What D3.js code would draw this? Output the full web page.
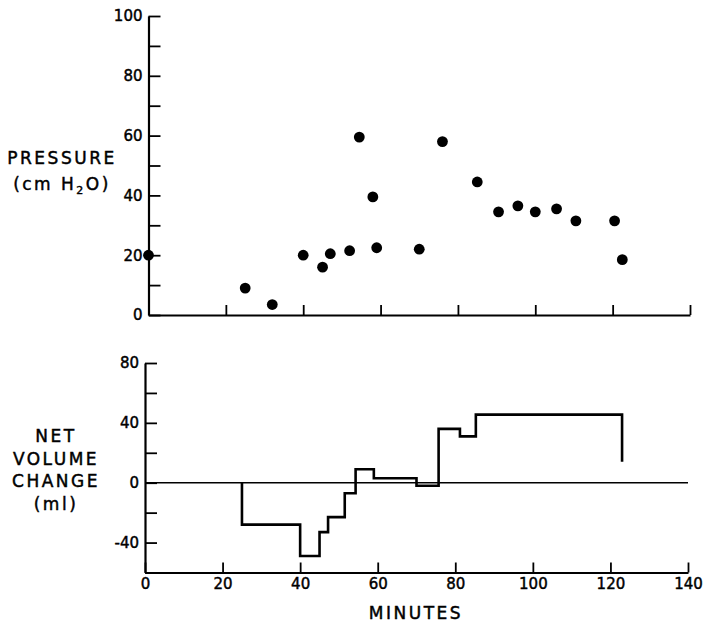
<!DOCTYPE html>
<html>
<head>
<meta charset="utf-8">
<script src="https://cdn.jsdelivr.net/npm/d3@7"></script>
<style>
  html, body { margin: 0; padding: 0; background: #fff; }
  svg { display: block; }
  .tick text { font-family: "DejaVu Sans", sans-serif; font-size: 15px; fill: #000; stroke: #000; stroke-width: 0.45px; }
  .title { font-family: "DejaVu Sans", sans-serif; font-size: 17px; letter-spacing: 2.5px; fill: #000; stroke: #000; stroke-width: 0.45px; }
</style>
</head>
<body>
<script>
// Bladder pressure readings over time
const pressureMinutes = [0, 25, 32, 40, 45, 47, 52, 54.5, 58, 59, 70, 76, 85, 90.5, 95.5, 100, 105.5, 110.5, 120.5, 122.5];
const pressureValues  = [20, 9, 3.5, 20, 16, 20.5, 21.5, 59.5, 39.5, 22.5, 22, 58, 44.5, 34.5, 36.5, 34.5, 35.5, 31.5, 31.5, 18.5];

// Net volume change: level that begins at each minute (starts from 0)
const volumeMinutes = [25, 40, 45, 47.2, 51.5, 54.3, 59, 70, 75.7, 81.2, 85.3, 123];
const volumeLevels  = [-28, -49, -33, -23, -7, 9, 3, -2, 36, 31, 45.5, 14];

const minuteTicks = [0, 20, 40, 60, 80, 100, 120, 140];
const pressureTicks = [0, 10, 20, 30, 40, 50, 60, 70, 80, 90, 100];
const volumeTicks = [-40, -20, 0, 20, 40, 60, 80];

const W = 704, H = 623;
const svg = d3.select("body").append("svg").attr("width", W).attr("height", H);

// ---- Top panel: pressure ----
const xTop = d3.scaleLinear().domain([0, 140]).range([148.5, 690]);
const yTop = d3.scaleLinear().domain([0, 100]).range([315, 16]);

svg.append("g").attr("transform", `translate(${xTop(0)},0)`)
  .call(d3.axisLeft(yTop).tickValues(pressureTicks)
    .tickSizeInner(-12).tickSizeOuter(0).tickPadding(6)
    .tickFormat(d => d % 20 === 0 ? d : ""));

svg.append("g").attr("transform", `translate(0,${yTop(0)})`)
  .call(d3.axisBottom(xTop).tickValues(minuteTicks)
    .tickSizeInner(-10).tickSizeOuter(0).tickFormat(""));

svg.append("g").selectAll("circle")
  .data(pressureMinutes.map((m, i) => [m, pressureValues[i]]))
  .join("circle")
  .attr("cx", d => xTop(d[0]))
  .attr("cy", d => yTop(d[1]))
  .attr("r", 5.4)
  .attr("fill", "#000");

svg.append("text").attr("class", "title").attr("text-anchor", "middle")
  .attr("x", 62).attr("y", 164).text("PRESSURE");
const unit = svg.append("text").attr("class", "title").attr("text-anchor", "middle")
  .attr("x", 62).attr("y", 190);
unit.append("tspan").text("(cm H");
unit.append("tspan").attr("font-size", "11px").attr("dy", 4).text("2");
unit.append("tspan").attr("dy", -4).text("O)");

// ---- Bottom panel: net volume change ----
const xBot = d3.scaleLinear().domain([0, 140]).range([145, 688]);
const yBot = d3.scaleLinear().domain([-60, 80]).range([572.5, 363]);

svg.append("line")
  .attr("x1", xBot(0)).attr("x2", xBot(140))
  .attr("y1", yBot(0)).attr("y2", yBot(0))
  .attr("stroke", "#000").attr("stroke-width", 1.5);

svg.append("g").attr("transform", `translate(${xBot(0)},0)`)
  .call(d3.axisLeft(yBot).tickValues(volumeTicks.concat([-60]))
    .tickSizeInner(-12).tickSizeOuter(0).tickPadding(6)
    .tickFormat(d => (d % 40 === 0 && d !== -60) ? d : ""));

svg.append("g").attr("transform", `translate(0,${yBot(-60)})`)
  .call(d3.axisBottom(xBot).tickValues(minuteTicks)
    .tickSizeInner(-10).tickSizeOuter(0).tickPadding(6));

const stepPts = [[volumeMinutes[0], 0]].concat(volumeMinutes.map((m, i) => [m, volumeLevels[i]]));
svg.append("path")
  .datum(stepPts)
  .attr("fill", "none")
  .attr("stroke", "#000")
  .attr("stroke-width", 2.6)
  .attr("stroke-linejoin", "miter")
  .attr("d", d3.line().x(d => xBot(d[0])).y(d => yBot(d[1])).curve(d3.curveStepAfter));

const volLabel = ["NET", "VOLUME", "CHANGE", "(ml)"];
svg.append("g").selectAll("text").data(volLabel).join("text")
  .attr("class", "title").attr("text-anchor", "middle")
  .attr("x", 56).attr("y", (d, i) => 442 + i * 22.5)
  .text(d => d);

svg.append("text").attr("class", "title").attr("text-anchor", "middle")
  .attr("x", 416).attr("y", 619).text("MINUTES");

// Heavy ink for axes
svg.selectAll(".domain").attr("stroke", "#000").attr("stroke-width", 2.2);
svg.selectAll(".tick line").attr("stroke", "#000").attr("stroke-width", 1.8);
</script>
</body>
</html>
